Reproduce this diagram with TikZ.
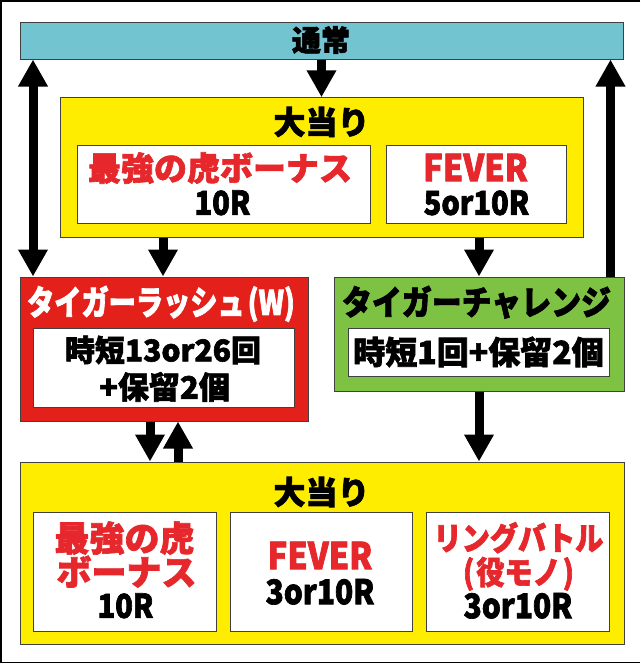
\documentclass[tikz,border=0pt]{standalone}
\usepackage{fontspec}
\newfontfamily\jp{Noto Sans CJK JP}[FakeBold=2]
\newfontfamily\jpc{Noto Sans CJK JP}[FakeBold=2,FakeStretch=0.88]
\newfontfamily\jpk{Noto Sans CJK JP}[FakeBold=2,FakeStretch=0.8]
\usetikzlibrary{arrows.meta,calc}
\definecolor{cteal}{RGB}{115,196,209}
\definecolor{cyel}{RGB}{255,237,0}
\definecolor{cred}{RGB}{227,32,26}
\definecolor{cgreen}{RGB}{125,194,66}
\definecolor{ctext}{RGB}{230,40,45}
\begin{document}
\begin{tikzpicture}[x=1pt,y=-1pt,
  box/.style={draw=black!75, line width=1pt, inner sep=0pt},
  tx/.style={inner sep=0pt, text depth=0pt, text height=#1pt*0.76, font=\jp\bfseries\fontsize{#1}{#1}\selectfont},
  tc/.style={inner sep=0pt, text depth=0pt, text height=#1pt*0.76, font=\jpc\bfseries\fontsize{#1}{#1}\selectfont},
  tk/.style={inner sep=0pt, text depth=0pt, text height=#1pt*0.76, font=\jpk\bfseries\fontsize{#1}{#1}\selectfont},
  tl/.style={inner sep=0pt, text depth=0pt, text height=#1pt*0.66, font=\jpc\bfseries\fontsize{#1}{#1}\selectfont},
  arr/.style={line width=9pt, -{Triangle[width=28pt,length=27pt]}},
  darr/.style={line width=9pt, {Triangle[width=28pt,length=27pt]}-{Triangle[width=28pt,length=27pt]}}
]
\useasboundingbox (0,0) rectangle (640,664);
\fill[white] (0,0) rectangle (640,664);
% frame
\draw[line width=1.5pt] (640,0.75) -- (0.75,0.75) -- (0.75,662.5) -- (640,662.5);

% boxes
\node[box, fill=cteal, minimum width=603pt, minimum height=37pt] (normal) at (321.5,40.5) {};
\node[box, fill=cyel, minimum width=523pt, minimum height=140pt] (top) at (321.5,167.75) {};
\node[box, fill=white, minimum width=293pt, minimum height=78pt] (tb1) at (223.75,184.75) {};
\node[box, fill=white, minimum width=180pt, minimum height=78pt] (tb2) at (476.25,184.75) {};
\node[box, fill=cred, minimum width=288pt, minimum height=144pt] (red) at (164,349) {};
\node[box, fill=white, minimum width=261pt, minimum height=79pt] (redin) at (164.25,367.5) {};
\node[box, fill=cgreen, minimum width=290pt, minimum height=114pt] (green) at (479,334) {};
\node[box, fill=white, minimum width=261pt, minimum height=48pt] (greenin) at (478.5,352) {};
\node[box, fill=cyel, minimum width=604pt, minimum height=182pt] (bot) at (322,553) {};
\node[box, fill=white, minimum width=183pt, minimum height=119pt] (b1) at (124.5,571.5) {};
\node[box, fill=white, minimum width=182pt, minimum height=119pt] (b2) at (321,571.5) {};
\node[box, fill=white, minimum width=183pt, minimum height=119pt] (b3) at (517.5,571.5) {};

% texts
\node[tx=29] (normaltxt) at (321,40) {通常};
\node[tx=32] (toptitle) at (321.5,122) {大当り};
\node[tx=33, text=ctext] (tb1a) at (220,168) {最強の虎ボーナス};
\node[tl=33] (tb1b) at (222.5,204) {10R};
\node[tl=37, text=ctext] (tb2a) at (475.5,169) {FEVER};
\node[tl=33] (tb2b) at (476.5,204) {5or10R};
\node[tk=34, text=white] (redtitle) at (161,302) {タイガーラッシュ\hspace{3pt}(W)};
\node[tx=30] (redina) at (163,350) {時短13or26回};
\node[tx=31] (redinb) at (164.5,387) {+保留2個};
\node[tc=34] (greentitle) at (476.5,302) {タイガーチャレンジ};
\node[tx=32] (greenina) at (478.5,352) {時短1回+保留2個};
\node[tx=32] (bottitle) at (321.5,492) {大当り};
\node[tx=35, text=ctext] (b1a) at (124.5,538) {最強の虎};
\node[tx=35, text=ctext] (b1b) at (126.5,572) {ボーナス};
\node[tl=33] (b1c) at (125.5,607) {10R};
\node[tl=37, text=ctext] (b2a) at (320,557) {FEVER};
\node[tl=34] (b2b) at (320,593) {3or10R};
\node[tc=32, text=ctext] (b3a) at (518.5,538) {リングバトル};
\node[tc=32, text=ctext] (b3b) at (518.5,572) {(\hspace{2pt}役モノ\hspace{2pt})};
\node[tl=34] (b3c) at (518,607) {3or10R};

% arrows
\draw[arr] (normal.south) -- (top.north);
\draw[darr] ($(normal.south west)+(13.5,0)$) -- ($(red.north west)+(13.5,0)$);
\coordinate (rg) at ($(green.north east)+(-14,0)$);
\draw[arr] (rg) -- (rg |- normal.south);
\coordinate (tr) at ($(red.north west)+(143.5,0)$);
\draw[arr] (tr |- top.south) -- (tr);
\draw[arr] (green.north |- top.south) -- (green.north);
\coordinate (rd) at ($(red.south)+(-14,0)$);
\coordinate (ru) at ($(red.south)+(14,0)$);
\draw[arr] (rd) -- (rd |- bot.north);
\draw[arr] (ru |- bot.north) -- (ru);
\draw[arr] (green.south) -- (green.south |- bot.north);
\end{tikzpicture}
\end{document}
